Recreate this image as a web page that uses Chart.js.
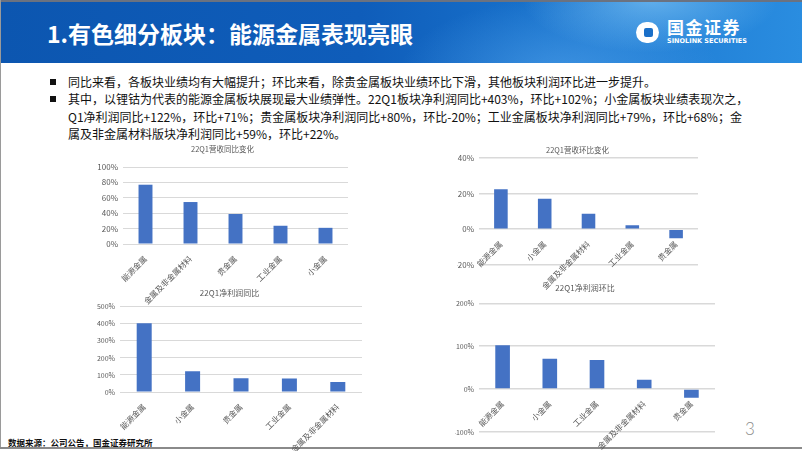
<!DOCTYPE html>
<html>
<head>
<meta charset="utf-8">
<script src="https://cdn.jsdelivr.net/npm/chart.js@4.4.1/dist/chart.umd.min.js"></script>
<style>
  body { margin: 0; background: #fff; }
  #slide { position: relative; width: 802px; height: 451px; overflow: hidden; font-family: "Noto Sans CJK SC", sans-serif; }
  #banner { position: absolute; left: 0; top: 0; width: 802px; height: 63px;
    background:
      radial-gradient(ellipse 170px 70px at 650px 0px, rgba(150,215,255,0.55), rgba(150,215,255,0) 75%),
      radial-gradient(ellipse 230px 110px at 560px 75px, rgba(90,170,240,0.55), rgba(90,170,240,0) 70%),
      linear-gradient(90deg, #0c56b0 0%, #0f5dba 45%, #1872cc 68%, #2a8de0 100%); }
  #title { position: absolute; left: 47px; top: 17px; font-size: 23px; font-weight: 700; color: #fff; line-height: 32px; white-space: nowrap; }
  #logoIcon { position: absolute; left: 636px; top: 22px; width: 23px; height: 21px; border-radius: 11px; background: #fff; }
  #logoIcon div { position: absolute; left: 8px; top: 6px; width: 9px; height: 9px; border-radius: 2px; background: #1a6fc8; }
  #logoCn { position: absolute; left: 667px; top: 16px; font-size: 17px; font-weight: 700; color: #fff; letter-spacing: 1.5px; line-height: 22px; white-space: nowrap; }
  #logoEn { position: absolute; left: 667px; top: 37px; font-size: 6.5px; font-weight: 700; color: #fff; line-height: 8px; white-space: nowrap; font-family: "DejaVu Sans", sans-serif; }
  .line { position: absolute; left: 68px; font-size: 12px; line-height: 18px; color: #111; white-space: nowrap; }
  .sq { position: absolute; left: 50px; width: 6px; height: 6px; background: #111; }
  #source { position: absolute; left: 8px; top: 435px; font-size: 8.5px; font-weight: 700; color: #111; line-height: 14px; white-space: nowrap; }
  #page { position: absolute; left: 745px; top: 418px; font-size: 17px; color: #8c8c8c; font-family: Lato, sans-serif; font-weight: 300; line-height: 22px; }
  #frameTop { position: absolute; left: 0; top: 0; width: 802px; height: 2px; background: #6b7280; }
  #frameLeft { position: absolute; left: 0; top: 0; width: 1px; height: 449px; background: #9a9a9a; }
  #frameBottom { position: absolute; left: 0; top: 447px; width: 802px; height: 2px; background: #8a8a8a; }
  canvas { position: absolute; }
</style>
</head>
<body>
<div id="slide">
  <div id="banner"></div>
  <div id="frameTop"></div>
  <div id="title">1.有色细分板块：能源金属表现亮眼</div>
  <div id="logoIcon"><div></div></div>
  <div id="logoCn">国金证券</div>
  <div id="logoEn">SINOLINK SECURITIES</div>

  <div class="sq" style="top:79px"></div>
  <div class="line" style="top:73px">同比来看，各板块业绩均有大幅提升；环比来看，除贵金属板块业绩环比下滑，其他板块利润环比进一步提升。</div>
  <div class="sq" style="top:96px"></div>
  <div class="line" style="top:90px">其中，以锂钴为代表的能源金属板块展现最大业绩弹性。22Q1板块净利润同比+403%，环比+102%；小金属板块业绩表现次之，</div>
  <div class="line" style="top:108px">Q1净利润同比+122%，环比+71%；贵金属板块净利润同比+80%，环比-20%；工业金属板块净利润同比+79%，环比+68%；金</div>
  <div class="line" style="top:125px">属及非金属材料版块净利润同比+59%，环比+22%。</div>

  <div id="source">数据来源：公司公告，国金证券研究所</div>
  <div id="page">3</div>
  <div id="frameLeft"></div>
  <div id="frameBottom"></div>
</div>

<script>
// 22Q1营收同比变化
var revYoyLabels = ['能源金属', '金属及非金属材料', '贵金属', '工业金属', '小金属'];
var revYoyValues = [77, 54.5, 39, 23.7, 21];

// 22Q1营收环比变化
var revQoqLabels = ['能源金属', '小金属', '金属及非金属材料', '工业金属', '贵金属'];
var revQoqValues = [22.4, 17, 8.7, 2.2, -5];

// 22Q1净利润同比
var profitYoyLabels = ['能源金属', '小金属', '贵金属', '工业金属', '金属及非金属材料'];
var profitYoyValues = [403, 122, 80, 79, 59];

// 22Q1净利润环比
var profitQoqLabels = ['能源金属', '小金属', '工业金属', '金属及非金属材料', '贵金属'];
var profitQoqValues = [102, 71, 68, 22, -20];

function barChart(id, title, labels, values, yMin, yMax, yStep, box) {
  var canvas = document.createElement('canvas');
  canvas.id = id;
  canvas.width = box.width;
  canvas.height = box.height;
  canvas.style.left = box.left + 'px';
  canvas.style.top = box.top + 'px';
  document.getElementById('slide').appendChild(canvas);

  return new Chart(canvas.getContext('2d'), {
    type: 'bar',
    data: {
      labels: labels,
      datasets: [{
        data: values,
        backgroundColor: '#4472c4',
        barPercentage: 0.31,
        categoryPercentage: 1
      }]
    },
    options: {
      responsive: false,
      animation: false,
      layout: { padding: { left: 0, right: 0, top: 0, bottom: box.padBottom } },
      plugins: {
        legend: { display: false },
        tooltip: { enabled: false },
        title: {
          display: true,
          text: title,
          color: '#595959',
          font: { family: 'Noto Sans CJK SC', size: box.titleSize, lineHeight: 1.2, weight: 'normal' },
          padding: { top: 0, bottom: box.titleGap }
        }
      },
      scales: {
        x: {
          position: { y: 0 },
          grid: { display: false },
          border: { display: false },
          ticks: {
            color: '#595959',
            font: { family: 'Noto Sans CJK SC', size: 8 },
            minRotation: 45,
            maxRotation: 45,
            autoSkip: false,
            padding: 2,
            z: 1
          }
        },
        y: {
          min: yMin,
          max: yMax,
          afterFit: function(scale) { scale.width = box.yw; },
          grid: { color: '#d9d9d9', lineWidth: box.gridWidth, drawTicks: false },
          border: { display: false },
          ticks: {
            stepSize: yStep,
            color: '#595959',
            font: { family: 'Noto Sans CJK SC', size: box.tickSize },
            padding: 5,
            callback: function(v) { return v + '%'; }
          }
        }
      }
    }
  });
}

barChart('revYoy', '22Q1营收同比变化', revYoyLabels, revYoyValues, 0, 100, 20,
  { left: 97, top: 145, width: 251, height: 164, yw: 26, padBottom: 65, titleSize: 7.5, titleGap: 13, tickSize: 8, gridWidth: 1 });

barChart('revQoq', '22Q1营收环比变化', revQoqLabels, revQoqValues, -20, 40, 20,
  { left: 457, top: 146, width: 241, height: 159, yw: 22, padBottom: 40, titleSize: 7.5, titleGap: 2.7, tickSize: 8, gridWidth: 1.5 });

barChart('profitYoy', '22Q1净利润同比', profitYoyLabels, profitYoyValues, 0, 500, 100,
  { left: 97, top: 288, width: 265, height: 169, yw: 23, padBottom: 65, titleSize: 8, titleGap: 9.1, tickSize: 7, gridWidth: 1 });

barChart('profitQoq', '22Q1净利润环比', profitQoqLabels, profitQoqValues, -100, 200, 100,
  { left: 455, top: 283, width: 260, height: 174, yw: 24, padBottom: 25, titleSize: 8, titleGap: 10.7, tickSize: 7, gridWidth: 1.5 });
</script>
</body>
</html>
